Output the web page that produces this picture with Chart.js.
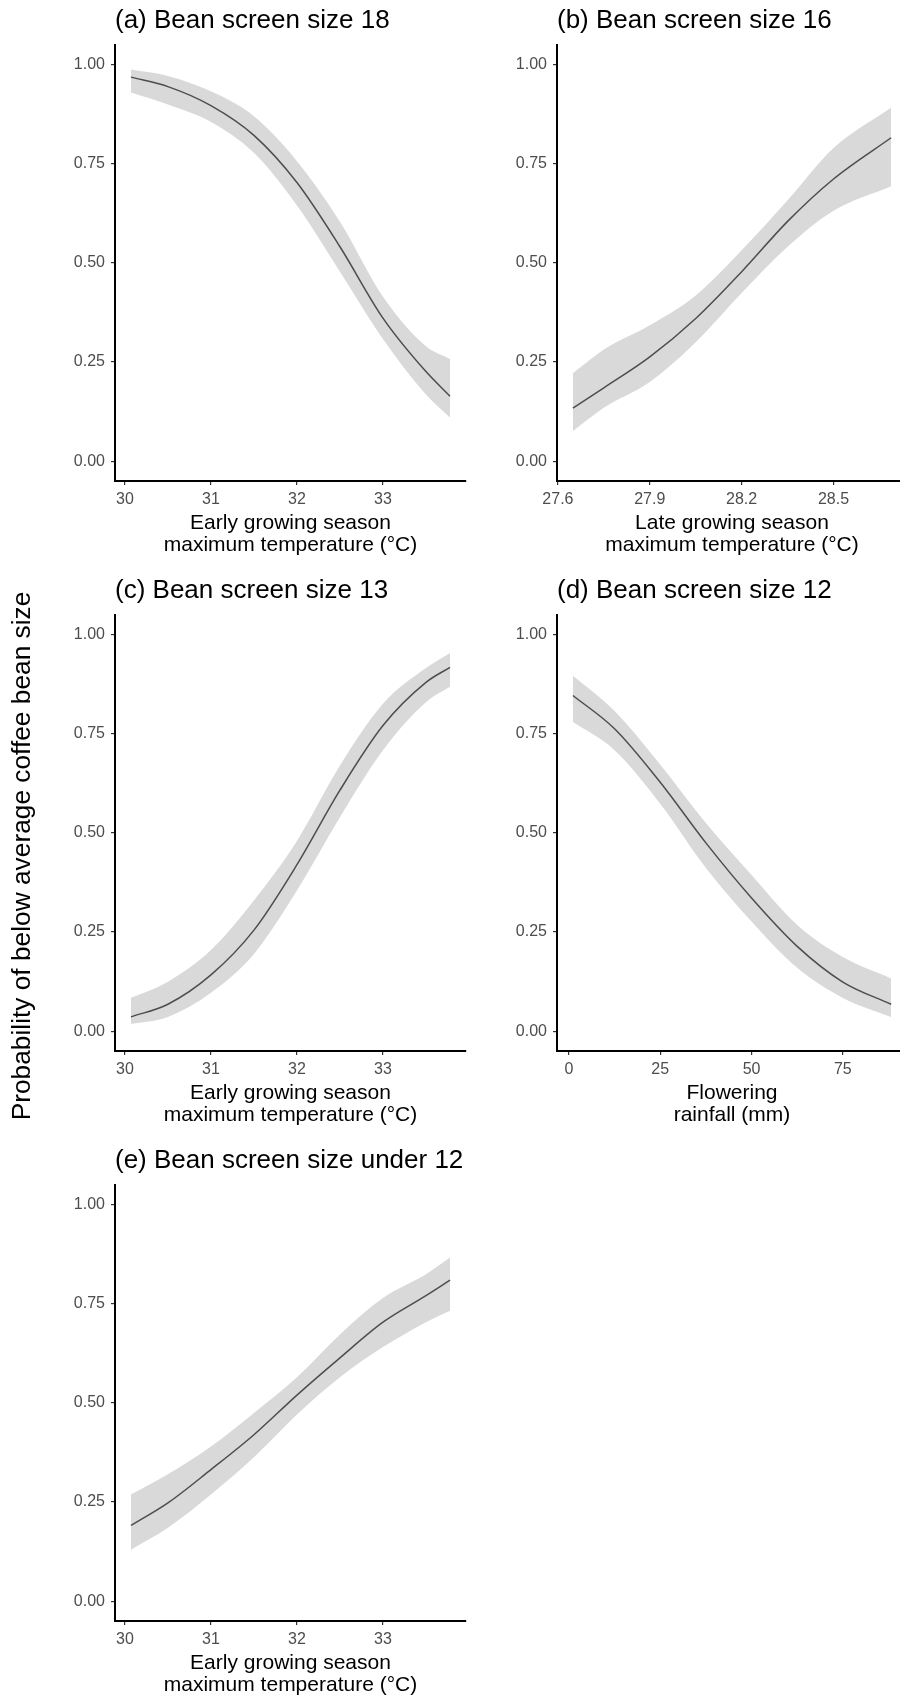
<!DOCTYPE html>
<html>
<head>
<meta charset="utf-8">
<title>Probability of below average coffee bean size</title>
<script src="https://cdn.jsdelivr.net/npm/chart.js@4.4.1/dist/chart.umd.min.js"></script>
<style>
  html, body { margin: 0; padding: 0; background: #fff; }
  body { width: 900px; height: 1698px; position: relative; overflow: hidden; }
  canvas { position: absolute; }
</style>
</head>
<body>
<canvas id="panelA" width="470" height="570" style="left:0;top:0"></canvas>
<canvas id="panelB" width="450" height="570" style="left:460px;top:0"></canvas>
<canvas id="panelC" width="470" height="570" style="left:0;top:570px"></canvas>
<canvas id="panelD" width="450" height="570" style="left:460px;top:570px"></canvas>
<canvas id="panelE" width="470" height="570" style="left:0;top:1140px"></canvas>
<script>
const FONT = "'Liberation Sans', Arial, sans-serif";
const yAxisLabel = 'Probability of below average coffee bean size';
const yTicks = [0, 0.25, 0.5, 0.75, 1];

// early growing season max temperature (°C), used by panels a, c and e
const earlyTemp = [30.07, 30.5, 31, 31.5, 32, 32.5, 33, 33.5, 33.78];
const earlyTempTicks = [30, 31, 32, 33];

// (a) screen size 18
const size18Fit   = [0.969, 0.945, 0.897, 0.822, 0.703, 0.541, 0.361, 0.226, 0.164];
const size18Upper = [0.988, 0.972, 0.933, 0.870, 0.757, 0.604, 0.415, 0.290, 0.258];
const size18Lower = [0.930, 0.900, 0.856, 0.778, 0.645, 0.478, 0.308, 0.168, 0.110];

// (b) screen size 16 vs late growing season max temperature
const lateTemp = [27.649, 27.75, 27.9, 28.05, 28.2, 28.35, 28.5, 28.688];
const lateTempTicks = [27.6, 27.9, 28.2, 28.5];
const size16Fit   = [0.134, 0.185, 0.263, 0.360, 0.478, 0.605, 0.712, 0.816];
const size16Upper = [0.222, 0.282, 0.343, 0.418, 0.532, 0.658, 0.790, 0.892];
const size16Lower = [0.076, 0.135, 0.200, 0.300, 0.424, 0.541, 0.632, 0.694];

// (c) screen size 13
const size13Fit   = [0.036, 0.068, 0.142, 0.255, 0.420, 0.608, 0.771, 0.880, 0.918];
const size13Upper = [0.084, 0.125, 0.205, 0.330, 0.480, 0.670, 0.826, 0.916, 0.954];
const size13Lower = [0.018, 0.036, 0.097, 0.195, 0.355, 0.540, 0.709, 0.830, 0.869];

// (d) screen size 12 vs flowering rainfall (mm)
const rainfall = [1.1, 12.5, 25, 37.5, 50, 62.5, 75, 88.2];
const rainfallTicks = [0, 25, 50, 75];
const size12Fit   = [0.847, 0.763, 0.628, 0.475, 0.336, 0.214, 0.124, 0.068];
const size12Upper = [0.897, 0.808, 0.673, 0.525, 0.394, 0.268, 0.187, 0.133];
const size12Lower = [0.780, 0.709, 0.574, 0.412, 0.277, 0.160, 0.084, 0.036];

// (e) screen size under 12
const under12Fit   = [0.191, 0.248, 0.332, 0.420, 0.520, 0.614, 0.704, 0.771, 0.810];
const under12Upper = [0.269, 0.320, 0.390, 0.475, 0.565, 0.673, 0.765, 0.825, 0.867];
const under12Lower = [0.130, 0.185, 0.269, 0.363, 0.471, 0.565, 0.641, 0.704, 0.733];

const earlyLabel = ['Early growing season', 'maximum temperature (°C)'];

function pts(xs, ys) {
    return xs.map((x, i) => ({ x: x, y: ys[i] }));
}

// rotated shared y label, drawn on the middle-left panel
const sideLabel = {
    id: 'sideLabel',
    afterDraw(chart) {
        const c = chart.ctx;
        c.save();
        c.translate(29.5, 286);
        c.rotate(-Math.PI / 2);
        c.font = '26.3px ' + FONT;
        c.fillStyle = '#000';
        c.textAlign = 'center';
        c.textBaseline = 'alphabetic';
        c.fillText(yAxisLabel, 0, 0);
        c.restore();
    }
};

function makePanel(id, p) {
    const xs = p.xs;
    const span = xs[xs.length - 1] - xs[0];
    const axisGrid = { drawOnChartArea: false, drawTicks: true, tickLength: 4, color: '#333', lineWidth: 1.2 };
    const axisBorder = { display: true, color: '#000', width: 2 };
    const tickFont = { family: FONT, size: 16 };

    return new Chart(document.getElementById(id), {
        type: 'line',
        data: {
            datasets: [{
                data: pts(xs, p.fit),
                borderColor: '#4d4d4d',
                borderWidth: 1.5,
                pointRadius: 0,
                fill: false,
                cubicInterpolationMode: 'monotone'
            }, {
                data: pts(xs, p.upper),
                borderWidth: 0,
                borderColor: 'rgba(0,0,0,0)',
                backgroundColor: '#d9d9d9',
                pointRadius: 0,
                fill: '+1',
                cubicInterpolationMode: 'monotone'
            }, {
                data: pts(xs, p.lower),
                borderWidth: 0,
                borderColor: 'rgba(0,0,0,0)',
                pointRadius: 0,
                fill: false,
                cubicInterpolationMode: 'monotone'
            }]
        },
        options: {
            responsive: false,
            animation: false,
            events: [],
            layout: { padding: { left: 0, right: p.padRight, top: 0, bottom: 0 } },
            plugins: {
                legend: { display: false },
                tooltip: { enabled: false },
                title: {
                    display: true, text: p.title, align: 'start', fullSize: false, color: '#000',
                    font: { family: FONT, size: 26, weight: 'normal', lineHeight: 1.2 },
                    padding: { top: 5, bottom: 8.8 }
                }
            },
            scales: {
                x: {
                    type: 'linear',
                    min: xs[0] - 0.05 * span,
                    max: xs[xs.length - 1] + 0.05 * span,
                    afterBuildTicks: s => { s.ticks = p.xTicks.map(v => ({ value: v })); },
                    afterFit: s => { s.height = 89; },
                    ticks: {
                        color: '#4d4d4d', font: tickFont, padding: 5, maxRotation: 0, autoSkip: false,
                        callback: v => v.toFixed(p.digits)
                    },
                    grid: axisGrid,
                    border: axisBorder,
                    title: {
                        display: true, text: p.xLabel, color: '#000',
                        font: { family: FONT, size: 21, lineHeight: 22 / 21 },
                        padding: { top: 0, bottom: 13.5 }
                    }
                },
                y: {
                    min: -0.05,
                    max: 1.05,
                    afterBuildTicks: s => { s.ticks = yTicks.map(v => ({ value: v })); },
                    afterFit: s => { s.width = p.chartLeft; },
                    ticks: { color: '#4d4d4d', font: tickFont, padding: 6, callback: v => v.toFixed(2) },
                    grid: axisGrid,
                    border: axisBorder
                }
            }
        },
        plugins: p.extra || []
    });
}

makePanel('panelA', {
    title: '(a) Bean screen size 18', xLabel: earlyLabel,
    xs: earlyTemp, fit: size18Fit, upper: size18Upper, lower: size18Lower,
    xTicks: earlyTempTicks, digits: 0, chartLeft: 115, padRight: 4
});
makePanel('panelB', {
    title: '(b) Bean screen size 16', xLabel: ['Late growing season', 'maximum temperature (°C)'],
    xs: lateTemp, fit: size16Fit, upper: size16Upper, lower: size16Lower,
    xTicks: lateTempTicks, digits: 1, chartLeft: 97, padRight: 3
});
makePanel('panelC', {
    title: '(c) Bean screen size 13', xLabel: earlyLabel,
    xs: earlyTemp, fit: size13Fit, upper: size13Upper, lower: size13Lower,
    xTicks: earlyTempTicks, digits: 0, chartLeft: 115, padRight: 4, extra: [sideLabel]
});
makePanel('panelD', {
    title: '(d) Bean screen size 12', xLabel: ['Flowering', 'rainfall (mm)'],
    xs: rainfall, fit: size12Fit, upper: size12Upper, lower: size12Lower,
    xTicks: rainfallTicks, digits: 0, chartLeft: 97, padRight: 3
});
makePanel('panelE', {
    title: '(e) Bean screen size under 12', xLabel: earlyLabel,
    xs: earlyTemp, fit: under12Fit, upper: under12Upper, lower: under12Lower,
    xTicks: earlyTempTicks, digits: 0, chartLeft: 115, padRight: 4
});
</script>
</body>
</html>
